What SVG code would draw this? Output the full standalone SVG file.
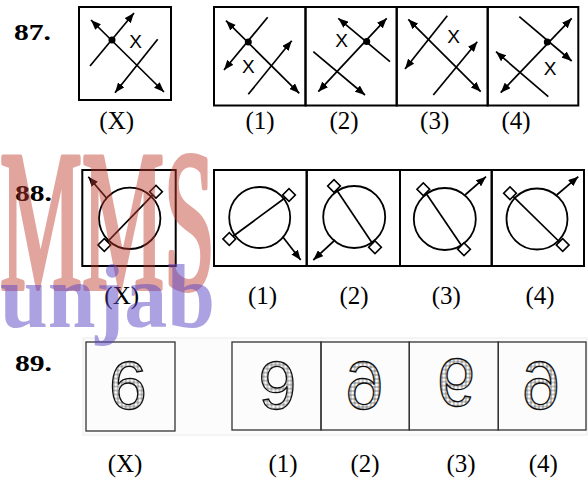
<svg xmlns="http://www.w3.org/2000/svg" width="588" height="483" viewBox="0 0 588 483">
<defs>
<marker id="ah" viewBox="0 0 10 8" refX="10" refY="4" markerWidth="10" markerHeight="8" markerUnits="userSpaceOnUse" orient="auto-start-reverse"><path d="M0,0L10,4L0,8z" fill="#000"/></marker>
<pattern id="hatch" width="4" height="4" patternUnits="userSpaceOnUse"><rect width="4" height="4" fill="#fff"/><path d="M0,2H4M2,0V4" stroke="#555" stroke-width="0.7"/></pattern>
</defs>
<style>
.box{fill:none;stroke:#000;stroke-width:2}
.thin{fill:none;stroke:#333;stroke-width:1.3}
.ln{stroke:#000;stroke-width:1.7;fill:none}
.ar{marker-end:url(#ah)}
.ar2{marker-start:url(#ah);marker-end:url(#ah)}
.dot{fill:#000}
.lx{font-family:"Liberation Sans",Arial,sans-serif;font-size:19px;text-anchor:middle}
.qn{font-family:"Liberation Serif","Times New Roman",serif;font-weight:bold;font-size:24px}
.lb{font-family:"Liberation Serif","Times New Roman",serif;font-size:25px;text-anchor:middle}
.cir{fill:none;stroke:#000;stroke-width:1.8}
.sq{fill:#fff;stroke:#000;stroke-width:1.6}
.dig{font-family:"Liberation Sans",Arial,sans-serif;font-size:68px;text-anchor:middle;fill:url(#hatch);stroke:#111;stroke-width:1.3}
</style>
<rect width="588" height="483" fill="#fff"/>

<!-- Question 87 -->
<g id="q87">
<text class="qn" x="14" y="40" textLength="37" lengthAdjust="spacingAndGlyphs">87.</text>
<g id="q87-x">
<rect class="box" x="79" y="7" width="92" height="93"/>
<line class="ln ar2" x1="91" y1="20" x2="164" y2="92"/>
<line class="ln ar" x1="90" y1="66" x2="134" y2="13"/>
<line class="ln ar" x1="157.7" y1="39.3" x2="115" y2="92.7"/>
<circle class="dot" cx="112" cy="40" r="3.5"/>
<text class="lx" x="135.5" y="47.7">X</text>
</g>
<g id="q87-1">
<rect class="box" x="214" y="7" width="91.5" height="98.5"/>
<line class="ln ar2" x1="226" y1="20.7" x2="299.3" y2="93.3"/>
<line class="ln ar" x1="267.7" y1="17.3" x2="224" y2="70"/>
<line class="ln ar" x1="248.3" y1="94.3" x2="291.7" y2="40.7"/>
<circle class="dot" cx="248.3" cy="42" r="3.5"/>
<text class="lx" x="248.3" y="73">X</text>
</g>
<g id="q87-2">
<rect class="box" x="305.5" y="7" width="91.2" height="98.5"/>
<line class="ln ar" x1="390" y1="61.7" x2="338.3" y2="18.3"/>
<line class="ln ar2" x1="318.3" y1="91.7" x2="386.7" y2="18.3"/>
<line class="ln ar" x1="313.3" y1="51.7" x2="365" y2="95"/>
<circle class="dot" cx="366.7" cy="41.5" r="3.5"/>
<text class="lx" x="341.7" y="46.7">X</text>
</g>
<g id="q87-3">
<rect class="box" x="396.7" y="7" width="91" height="98.5"/>
<line class="ln ar2" x1="408.3" y1="19.3" x2="480.7" y2="91.7"/>
<line class="ln ar" x1="447.3" y1="15.7" x2="405" y2="69"/>
<line class="ln ar" x1="433.3" y1="95" x2="477.3" y2="41.7"/>
<text class="lx" x="453.7" y="43">X</text>
</g>
<g id="q87-4">
<rect class="box" x="487.7" y="7" width="90.6" height="98.5"/>
<line class="ln ar" x1="519.3" y1="16.7" x2="571.7" y2="61"/>
<line class="ln ar2" x1="500.7" y1="92.7" x2="571.7" y2="18.3"/>
<line class="ln ar" x1="548.3" y1="96.7" x2="496" y2="51.7"/>
<circle class="dot" cx="547.3" cy="42" r="3.5"/>
<text class="lx" x="550" y="75">X</text>
</g>
<text class="lb" x="116.7" y="129">(X)</text>
<text class="lb" x="260" y="129">(1)</text>
<text class="lb" x="344" y="129">(2)</text>
<text class="lb" x="434.7" y="129">(3)</text>
<text class="lb" x="516" y="129">(4)</text>
</g>

<!-- Question 88 -->
<g id="q88">
<text class="qn" x="15" y="200.5" textLength="37" lengthAdjust="spacingAndGlyphs">88.</text>
<g id="q88-x">
<rect class="box" x="82.3" y="170" width="93.4" height="96"/>
<circle class="cir" cx="129.7" cy="218.3" r="30.7"/>
<line class="ln" x1="104.3" y1="245" x2="156" y2="191.7"/>
<rect class="sq" x="-4.5" y="-4.5" width="9" height="9" transform="translate(104.3,245) rotate(45)"/>
<rect class="sq" x="-4.5" y="-4.5" width="9" height="9" transform="translate(156,191.7) rotate(45)"/>
<line class="ln ar" x1="106.7" y1="198.3" x2="88.3" y2="176.7"/>
</g>
<g id="q88-1">
<rect class="box" x="214" y="170" width="92.7" height="96"/>
<circle class="cir" cx="259.7" cy="217.5" r="30.5"/>
<line class="ln" x1="229.3" y1="239" x2="289" y2="195"/>
<rect class="sq" x="-4.5" y="-4.5" width="9" height="9" transform="translate(229.3,239) rotate(45)"/>
<rect class="sq" x="-4.5" y="-4.5" width="9" height="9" transform="translate(289,195) rotate(45)"/>
<line class="ln ar" x1="282.7" y1="236.7" x2="300.7" y2="260"/>
</g>
<g id="q88-2">
<rect class="box" x="306.7" y="170" width="93.3" height="96"/>
<circle class="cir" cx="354.2" cy="217" r="31"/>
<line class="ln" x1="334" y1="186" x2="375" y2="247.3"/>
<rect class="sq" x="-4.5" y="-4.5" width="9" height="9" transform="translate(334,186) rotate(45)"/>
<rect class="sq" x="-4.5" y="-4.5" width="9" height="9" transform="translate(375,247.3) rotate(45)"/>
<line class="ln ar" x1="335" y1="240" x2="313.3" y2="260"/>
</g>
<g id="q88-3">
<rect class="box" x="400" y="170" width="91.7" height="96"/>
<circle class="cir" cx="444.8" cy="219" r="31"/>
<line class="ln" x1="423.3" y1="189.3" x2="464" y2="249.3"/>
<rect class="sq" x="-4.5" y="-4.5" width="9" height="9" transform="translate(423.3,189.3) rotate(45)"/>
<rect class="sq" x="-4.5" y="-4.5" width="9" height="9" transform="translate(464,249.3) rotate(45)"/>
<line class="ln ar" x1="465" y1="195" x2="486" y2="176.7"/>
</g>
<g id="q88-4">
<rect class="box" x="491.7" y="170" width="92.3" height="96"/>
<circle class="cir" cx="537" cy="219" r="30.5"/>
<line class="ln" x1="510" y1="193.3" x2="562.7" y2="245"/>
<rect class="sq" x="-4.5" y="-4.5" width="9" height="9" transform="translate(510,193.3) rotate(45)"/>
<rect class="sq" x="-4.5" y="-4.5" width="9" height="9" transform="translate(562.7,245) rotate(45)"/>
<line class="ln ar" x1="556.7" y1="195" x2="578.3" y2="176.7"/>
</g>
<text class="lb" x="121.7" y="304">(X)</text>
<text class="lb" x="262.5" y="304">(1)</text>
<text class="lb" x="354" y="304">(2)</text>
<text class="lb" x="446.3" y="304">(3)</text>
<text class="lb" x="540" y="304">(4)</text>
</g>

<!-- Question 89 -->
<g id="q89">
<text class="qn" x="15" y="371" textLength="37" lengthAdjust="spacingAndGlyphs">89.</text>
<rect x="83" y="338" width="504" height="97" fill="#fcfcfc" stroke="#ececec" stroke-width="1"/>
<g id="q89-x">
<rect class="thin" x="86" y="342" width="89" height="89"/>
<g transform="translate(127.8,384.5)"><text class="dig" x="0" y="24.4">6</text></g>
</g>
<g id="q89-1">
<rect class="thin" x="232" y="342" width="89" height="88"/>
<g transform="translate(277.5,386.7) rotate(180)"><text class="dig" x="0" y="24.4">6</text></g>
</g>
<g id="q89-2">
<rect class="thin" x="321" y="342" width="88.3" height="88"/>
<g transform="translate(364.7,385) scale(-1,1)"><text class="dig" x="0" y="24.4">6</text></g>
</g>
<g id="q89-3">
<rect class="thin" x="409.3" y="342" width="89" height="88"/>
<g transform="translate(455.8,383.7) scale(1,-1)"><text class="dig" x="0" y="24.4">6</text></g>
</g>
<g id="q89-4">
<rect class="thin" x="498.3" y="342" width="87.7" height="88"/>
<g transform="translate(541,384.5) scale(-1,1)"><text class="dig" x="0" y="24.4">6</text></g>
</g>
<text class="lb" x="125" y="472">(X)</text>
<text class="lb" x="283" y="472">(1)</text>
<text class="lb" x="365" y="472">(2)</text>
<text class="lb" x="461" y="472">(3)</text>
<text class="lb" x="543.3" y="472">(4)</text>
</g>

<!-- Watermark -->
<g id="watermark">
<g opacity="0.45">
<text x="0" y="288" font-family="Liberation Serif, Times New Roman, serif" font-size="200" textLength="215" lengthAdjust="spacingAndGlyphs" fill="#c0392b" stroke="#c0392b" stroke-width="6" stroke-linejoin="round">MMS</text>
</g>
<g opacity="0.5">
<text x="0" y="327" font-family="Liberation Serif, Times New Roman, serif" font-weight="bold" font-size="90" textLength="215" lengthAdjust="spacingAndGlyphs" fill="#5b45c4">unjab</text>
</g>
</g>
</svg>
